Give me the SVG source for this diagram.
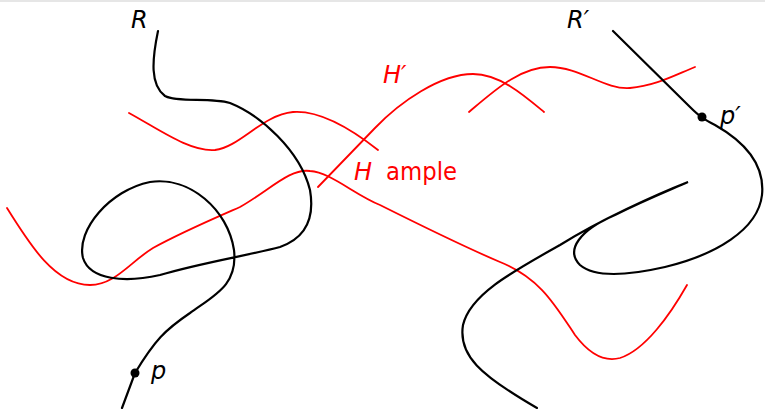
<svg xmlns="http://www.w3.org/2000/svg" width="765" height="409" viewBox="0 0 765 409">
<style>
.k{fill:none;stroke:#000;stroke-width:2.2;stroke-linecap:round}
.r{fill:none;stroke:#f00;stroke-width:1.8;stroke-linecap:round}
.t{font-family:"DejaVu Sans",sans-serif;font-size:24px}
.i{font-style:italic}
</style>
<rect x="0" y="0" width="765" height="409" fill="#fff"/>
<rect x="0" y="0" width="765" height="2" fill="#e6e6e6"/>
<g id="curves-red">
<path class="r" d="M129,113 C160,130 190,152 215,150 C240,147 262,115 293,112 C320,110 350,128 378,150"/>
<path class="r" d="M7,208 C30,245 55,285 90,285 C115,285 130,262 153,248 C180,233 215,218 240,207 C270,190 290,168 310,171 C330,172 355,195 380,205 C420,225 460,245 500,262 C540,278 555,305 575,335 C590,355 605,362 620,358 C645,350 670,315 687,285"/>
<path class="r" d="M318,187 L375,128 C400,102 440,74 473,74 C500,74 525,96 544,112"/>
<path class="r" d="M469,112 C495,90 520,67 550,67 C580,67 605,90 630,88 C655,86 675,75 695,67"/>
</g>
<g id="R">
<path class="k" d="M158,31 C152,60 150,85 165,96 C178,103 210,97 230,103 C260,115 300,150 310,190 C316,225 300,240 280,247 C250,255 200,263 160,275 C125,283 90,280 83,258 C76,230 110,190 150,182 C190,176 228,210 234,250 C238,285 215,295 190,313 C165,330 155,340 135,373 L122,408"/>
<circle cx="135" cy="373" r="4.5"/>
<text class="t i" x="131" y="28">R</text>
<text class="t i" x="151" y="379">p</text>
</g>
<g id="Rprime">
<path class="k" d="M613,31 L690,107 C700,117 705,120 715,125 C745,142 765,165 762,195 C758,230 715,255 665,267 C630,275 595,278 580,265 C565,250 580,230 615,215 C645,200 670,190 688,182 C655,195 600,220 560,245 C510,273 470,295 463,325 C458,355 480,375 537,408"/>
<circle cx="702" cy="117" r="4.5"/>
<text class="t i" x="567" y="28">R′</text>
<text class="t i" x="720" y="124">p′</text>
</g>
<g id="labels" fill="#f00">
<text class="t i" x="383" y="83">H′</text>
<text class="t i" x="354" y="180">H</text>
<text class="t" x="386" y="180" textLength="71" lengthAdjust="spacingAndGlyphs">ample</text>
</g>
</svg>
